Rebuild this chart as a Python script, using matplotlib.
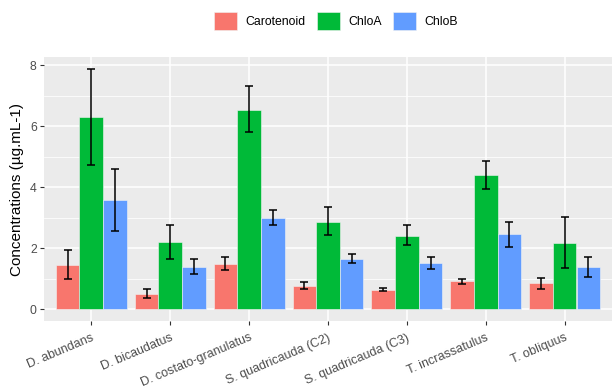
import matplotlib
matplotlib.use("Agg")
import matplotlib.pyplot as plt
from matplotlib.patches import Patch
from matplotlib.ticker import MultipleLocator
import numpy as np

plt.rcParams['font.family'] = ['Liberation Sans', 'DejaVu Sans']

species = ["D. abundans", "D. bicaudatus", "D. costato-granulatus",
           "S. quadricauda (C2)", "S. quadricauda (C3)", "T. incrassatulus", "T. obliquus"]
pigments = ["Carotenoid", "ChloA", "ChloB"]
colors = ["#F8766D", "#00BA38", "#619CFF"]

carotenoid = [1.45, 0.50, 1.48, 0.77, 0.63, 0.91, 0.84]
carotenoid_lo = [1.00, 0.35, 1.29, 0.66, 0.58, 0.83, 0.67]
carotenoid_hi = [1.95, 0.65, 1.72, 0.87, 0.68, 0.99, 1.02]

chloa = [6.28, 2.20, 6.53, 2.86, 2.40, 4.40, 2.16]
chloa_lo = [4.72, 1.65, 5.80, 2.43, 2.10, 3.95, 1.34]
chloa_hi = [7.87, 2.77, 7.30, 3.33, 2.75, 4.86, 3.01]

chlob = [3.57, 1.38, 3.00, 1.65, 1.51, 2.45, 1.37]
chlob_lo = [2.55, 1.15, 2.77, 1.51, 1.31, 2.02, 1.04]
chlob_hi = [4.60, 1.63, 3.23, 1.80, 1.70, 2.85, 1.72]

series = [(carotenoid, carotenoid_lo, carotenoid_hi),
          (chloa, chloa_lo, chloa_hi),
          (chlob, chlob_lo, chlob_hi)]

fig = plt.figure(figsize=(6.13, 3.89), dpi=100)
ax = fig.add_axes([44/613, 1-321/389, (612-44)/613, (321-57)/389])
ax.set_facecolor("#EBEBEB")

x = np.arange(len(species))
bw = 0.3
for i, (vals, lo, hi) in enumerate(series):
    pos = x + (i - 1) * bw
    vals = np.array(vals); lo = np.array(lo); hi = np.array(hi)
    ax.bar(pos, vals, width=bw, color=colors[i], edgecolor="#F2F2F2", linewidth=0.4, zorder=2)
    ax.errorbar(pos, vals, yerr=[vals - lo, hi - vals], fmt='none', ecolor='black',
                elinewidth=1.1, capsize=3.2, capthick=1.1, zorder=3)

ymax = max(max(h) for _, _, h in series)
ax.set_ylim(-0.05 * ymax, ymax * 1.05)
ax.set_xlim(-0.6, len(species) - 1 + 0.6)
ax.yaxis.set_major_locator(MultipleLocator(2))
ax.yaxis.set_minor_locator(MultipleLocator(1))
ax.grid(which='major', color='white', linewidth=1.1, zorder=0)
ax.grid(which='minor', axis='y', color='white', linewidth=0.55, zorder=0)
ax.set_axisbelow(True)
for s in ax.spines.values():
    s.set_visible(False)

ax.tick_params(axis='both', which='major', length=2.75, width=0.8, color='#333333',
               labelsize=8.8, labelcolor='#4D4D4D', pad=2.5)
ax.tick_params(axis='x', which='major', pad=5)
ax.tick_params(axis='y', which='minor', length=0)
ax.set_xticks(x)
ax.set_xticklabels(species, rotation=23, ha='right', va='top', rotation_mode='anchor',
                   fontsize=9, color='#4D4D4D')
ax.set_ylabel("Concentrations (µg.mL-1)", fontsize=11, color='black', labelpad=4)

handles = [Patch(facecolor=c, edgecolor='#F2F2F2', linewidth=0.4) for c in colors]
fig.legend(handles, pigments, loc='center', bbox_to_anchor=(336/613, 1 - 21/389), ncol=3,
           frameon=False, fontsize=8.8, handlelength=1.88, handleheight=1.8,
           handletextpad=0.72, columnspacing=0.9, labelcolor='black',
           borderpad=0.2)

fig.savefig("out.png", dpi=100)
